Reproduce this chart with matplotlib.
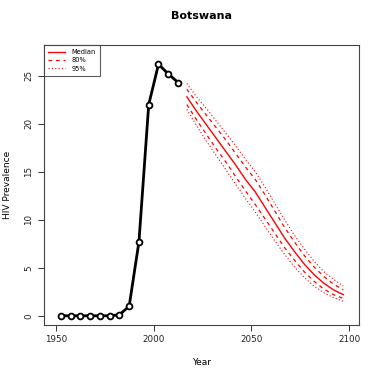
import matplotlib
matplotlib.use("Agg")
import matplotlib.pyplot as plt
import numpy as np

# observed prevalence
obs_years = [1952.5, 1957.5, 1962.5, 1967.5, 1972.5, 1977.5, 1982.5,
             1987.5, 1992.5, 1997.5, 2002.5, 2007.5, 2012.5]
obs_values = [0.0, 0.0, 0.0, 0.0, 0.0, 0.0, 0.1, 1.0, 7.7, 22.0, 26.2, 25.2, 24.3]

# projections
proj_years = [2017, 2022, 2027, 2032, 2037, 2042, 2047, 2052, 2057,
              2062, 2067, 2072, 2077, 2082, 2087, 2092, 2097]
median = [22.8, 21.3, 19.9, 18.5, 17.1, 15.7, 14.2, 12.9, 11.3,
          9.7, 8.1, 6.7, 5.4, 4.3, 3.4, 2.7, 2.2]
lo80 = [22.0, 20.4, 18.9, 17.4, 16.0, 14.5, 13.0, 11.6, 10.1,
        8.6, 7.1, 5.8, 4.6, 3.6, 2.8, 2.2, 1.8]
hi80 = [23.6, 22.2, 20.9, 19.6, 18.3, 16.9, 15.5, 14.2, 12.6,
        10.9, 9.2, 7.7, 6.3, 5.1, 4.1, 3.3, 2.7]
lo95 = [21.5, 19.8, 18.2, 16.7, 15.2, 13.7, 12.2, 10.8, 9.3,
        7.8, 6.4, 5.1, 4.0, 3.1, 2.4, 1.9, 1.5]
hi95 = [24.2, 22.8, 21.6, 20.3, 19.0, 17.7, 16.3, 15.0, 13.4,
        11.7, 10.0, 8.4, 7.0, 5.7, 4.6, 3.8, 3.1]

fig = plt.figure(figsize=(3.82, 3.82), dpi=100)
ax = fig.add_axes([0.115, 0.149, 0.825, 0.733])

ax.plot(obs_years, obs_values, color="black", lw=2, marker="o", ms=4.2,
        mfc="white", mec="black", mew=1.3)

red = "#ff0000"
ax.plot(proj_years, median, color=red, lw=1.0, label="Median")
ax.plot(proj_years, lo80, color=red, lw=0.9, ls=(0, (3, 3)), label="80%")
ax.plot(proj_years, hi80, color=red, lw=0.9, ls=(0, (3, 3)))
ax.plot(proj_years, lo95, color=red, lw=0.8, ls=(0, (1, 2)), label="95%")
ax.plot(proj_years, hi95, color=red, lw=0.8, ls=(0, (1, 2)))

ax.set_xlim(1943.9, 2105.1)
ax.set_ylim(-0.97, 28.2)
ax.set_xticks([1950, 2000, 2050, 2100])
ax.set_yticks([0, 5, 10, 15, 20, 25])
ax.tick_params(labelsize=6.3, length=4, width=0.7, color="#333333",
               labelcolor="#222222")
for lab in ax.get_yticklabels():
    lab.set_rotation(90)
    lab.set_va("center")
for s in ax.spines.values():
    s.set_linewidth(0.8)
    s.set_color("#444444")

ax.set_xlabel("Year", fontsize=6.5, labelpad=10)
ax.set_ylabel("HIV Prevalence", fontsize=6.5, labelpad=9)
ax.set_title("Botswana", fontsize=8, fontweight="bold", pad=19)

leg = ax.legend(loc="upper left", fontsize=4.8, frameon=True, fancybox=False,
                borderaxespad=0, handlelength=2.6, handletextpad=0.9,
                labelspacing=0.35, borderpad=0.6)
leg.get_frame().set_edgecolor("#333333")
leg.get_frame().set_linewidth(0.8)

fig.savefig("out.png", dpi=100)
